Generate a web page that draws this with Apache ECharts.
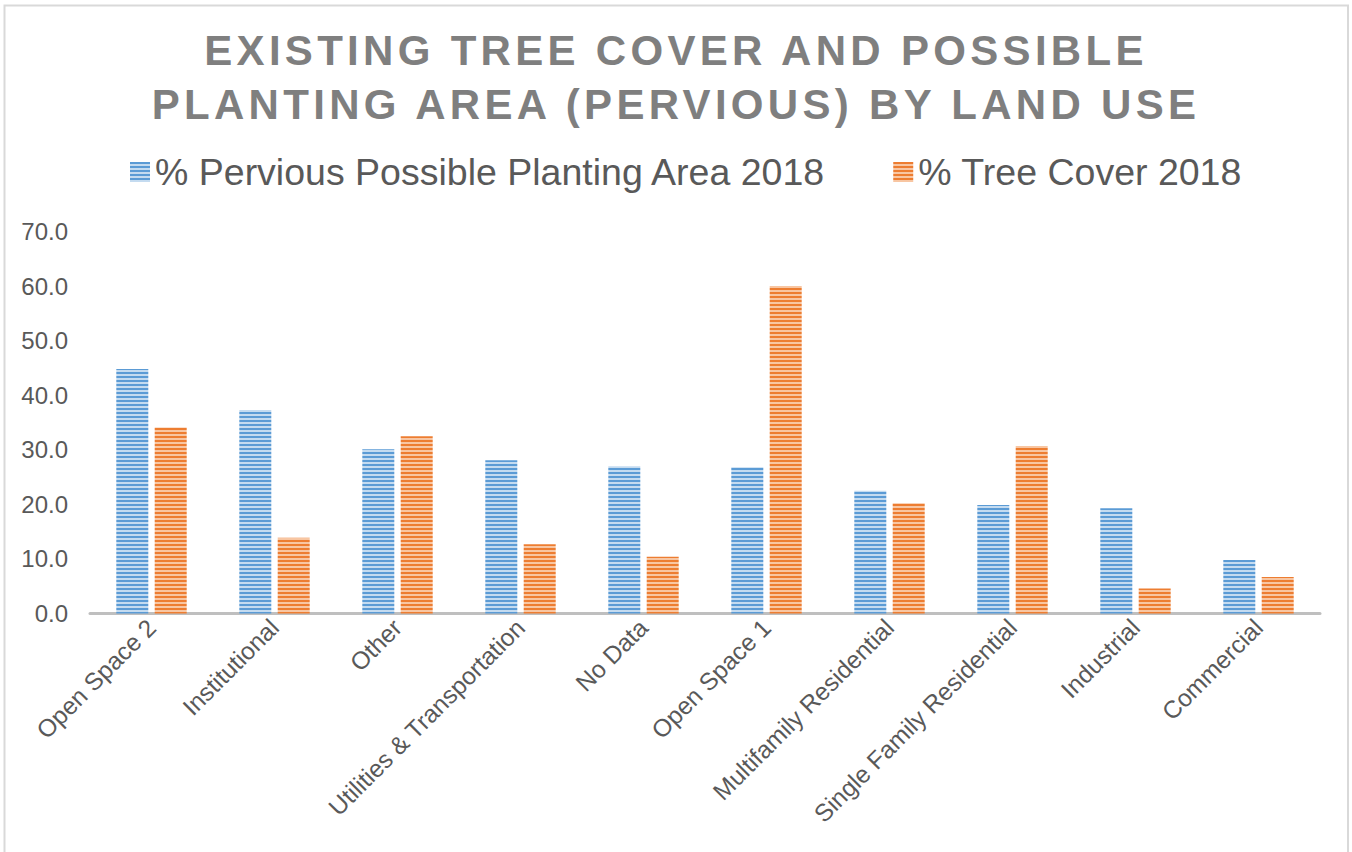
<!DOCTYPE html>
<html>
<head>
<meta charset="utf-8">
<script src="https://cdn.jsdelivr.net/npm/echarts@6/dist/echarts.min.js"></script>
<style>
  html, body { margin: 0; padding: 0; background: #fff; }
  #chart { width: 1352px; height: 852px; }
</style>
</head>
<body>
<div id="chart"></div>
<script>
// Land-use categories, in plotted order
const categories = [
  'Open Space 2', 'Institutional', 'Other', 'Utilities & Transportation', 'No Data',
  'Open Space 1', 'Multifamily Residential', 'Single Family Residential', 'Industrial', 'Commercial'
];
// % Pervious Possible Planting Area 2018
const perviousPPA = [44.8, 37.3, 30.1, 28.1, 27.0, 26.8, 22.5, 19.9, 19.3, 9.8];
// % Tree Cover 2018
const treeCover = [34.1, 13.9, 32.5, 12.7, 10.4, 60.0, 20.2, 30.7, 4.6, 6.7];
const seriesNames = ['% Pervious Possible Planting Area 2018', '% Tree Cover 2018'];
const yTicks = { min: 0, max: 70, step: 10 };

const FONT = "'Liberation Sans', Arial, sans-serif";

// Horizontal-stripe fill: two dark rows, two light rows
function stripes(dark, light) {
  const c = document.createElement('canvas');
  c.width = 4; c.height = 4;
  const g = c.getContext('2d');
  g.fillStyle = dark;  g.fillRect(0, 0, 4, 2);
  g.fillStyle = light; g.fillRect(0, 2, 4, 2);
  return { image: c, repeat: 'repeat' };
}
const blueFill = stripes('#5b9bd5', '#c4dbf0');
const orangeFill = stripes('#ed7d31', '#f8c6a2');

const chart = echarts.init(document.getElementById('chart'), null, { renderer: 'svg' });

chart.setOption({
  animation: false,
  backgroundColor: '#ffffff',
  textStyle: { fontFamily: FONT },
  title: {
    text: 'EXISTING TREE COVER AND POSSIBLE\nPLANTING AREA (PERVIOUS) BY LAND USE',
    left: 'center',
    top: 23,
    padding: 0,
    textStyle: {
      fontFamily: FONT, fontSize: 42, fontWeight: 'bold',
      color: '#7f7f7f', lineHeight: 54
    }
  },
  legend: {
    left: 130,
    top: 153,
    padding: 0,
    itemWidth: 20,
    itemHeight: 20,
    itemGap: 67,
    icon: 'rect',
    textStyle: { fontFamily: FONT, fontSize: 37.5, color: '#595959' },
    data: seriesNames
  },
  grid: { left: 90, right: 32, top: 231.5, bottom: 238.5, containLabel: false },
  xAxis: {
    type: 'category',
    data: categories,
    axisLine: { show: true, lineStyle: { color: '#bfbfbf', width: 3 } },
    axisTick: { show: false },
    axisLabel: {
      interval: 0, rotate: 45, margin: 10,
      fontFamily: FONT, fontSize: 24.5, color: '#595959'
    },
    splitLine: { show: false }
  },
  yAxis: {
    type: 'value',
    min: yTicks.min, max: yTicks.max, interval: yTicks.step,
    axisLine: { show: false },
    axisTick: { show: false },
    splitLine: { show: false },
    axisLabel: {
      margin: 22, fontFamily: FONT, fontSize: 24, color: '#595959',
      formatter: v => v.toFixed(1)
    }
  },
  series: [
    {
      name: seriesNames[0], type: 'bar', data: perviousPPA,
      barWidth: 32, barGap: '20%',
      itemStyle: { color: blueFill }
    },
    {
      name: seriesNames[1], type: 'bar', data: treeCover,
      barWidth: 32, barGap: '20%',
      itemStyle: { color: orangeFill }
    }
  ],
  graphic: [{
    type: 'rect',
    silent: true,
    z: -1,
    shape: { x: 4.5, y: 5.5, width: 1343.5, height: 870 },
    style: { fill: 'none', stroke: '#d9d9d9', lineWidth: 2 }
  }]
});

// Spread the title letters the way the heading is set
function spaceTitle() {
  document.querySelectorAll('#chart svg text').forEach(t => {
    const s = t.textContent || '';
    if (s.indexOf('EXISTING') === 0 || s.indexOf('PLANTING') === 0) {
      t.style.letterSpacing = '4.3px';
    }
  });
}
chart.on('finished', spaceTitle);
spaceTitle();
</script>
</body>
</html>
